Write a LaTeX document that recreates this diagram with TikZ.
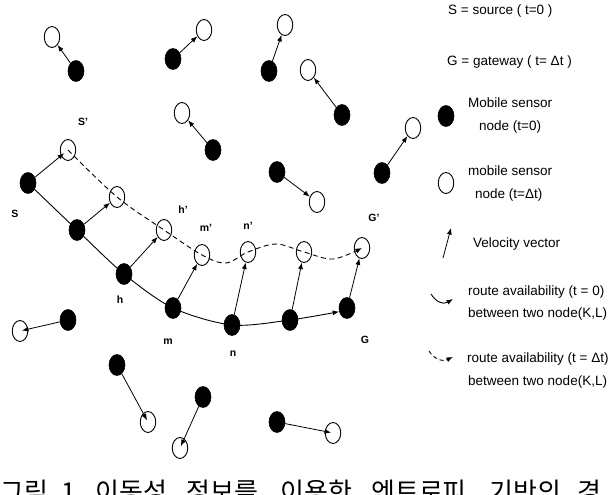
\documentclass[tikz,border=0pt]{standalone}
\usepackage{fontspec}
\setmainfont{Liberation Sans}
\newfontfamily\krfont{Noto Sans CJK KR}
\usetikzlibrary{arrows.meta,backgrounds,shapes.geometric}
\begin{document}
\begin{tikzpicture}[x=1pt,y=-1pt,
  blk/.style={ellipse,fill=black,draw=black,line width=0.6pt,minimum width=16pt,minimum height=21pt,inner sep=0pt},
  opn/.style={ellipse,draw=black,line width=0.9pt,minimum width=15.5pt,minimum height=21pt,inner sep=0pt},
  vel/.style={line width=0.8pt,-{Latex[length=6.5pt,width=5pt]}},
  route/.style={line width=0.9pt,-{Latex[length=6.5pt,width=5pt]}},
  lbl/.style={font=\fontsize{10.5}{12}\selectfont\bfseries,inner sep=0pt},
  leg/.style={font=\fontsize{13.5}{15}\selectfont,anchor=base west,inner sep=0pt},
  captxt/.style={font=\krfont\fontsize{26}{28}\selectfont,anchor=base west,inner sep=0pt},
]
\useasboundingbox (0,0) rectangle (608,495);

% scattered nodes
\node[opn] (o1) at (52,37) {};   \node[blk] (b1) at (76,71) {};
\node[opn] (o2) at (204,30) {};  \node[blk] (b2) at (173,59) {};
\node[opn] (o3) at (285,25) {};  \node[blk] (b3) at (269,71) {};
\node[opn] (o4) at (308,70) {};  \node[blk] (b4) at (342,115) {};
\node[opn] (o5) at (182,113) {}; \node[blk] (b5) at (213,150) {};
\node[opn] (o6) at (317,202) {}; \node[blk] (b6) at (277,172) {};
\node[opn] (o7) at (413,128) {}; \node[blk] (b7) at (382,173) {};
\node[opn] (o8) at (20,331) {};  \node[blk] (b8) at (68,320) {};
\node[opn] (o9) at (148,422) {}; \node[blk] (b9) at (117,365) {};
\node[opn] (o10) at (180,448) {};\node[blk] (b10) at (203,397) {};
\node[opn] (o11) at (333,433) {};\node[blk] (b11) at (277,422) {};

% route nodes
\node[blk] (S) at (28,183) {};  \node[opn] (Sp) at (68,150) {};
\node[blk] (a) at (77,230) {};  \node[opn] (ap) at (117,197) {};
\node[blk] (h) at (124,274) {}; \node[opn] (hp) at (164,230) {};
\node[blk] (m) at (173,308) {}; \node[opn] (mp) at (202,255) {};
\node[blk] (n) at (232,325) {}; \node[opn] (np) at (248,252) {};
\node[blk] (q) at (290,320) {}; \node[opn] (qp) at (304,252) {};
\node[blk] (G) at (347,308) {}; \node[opn] (Gp) at (362,248) {};

% waypoints of the dashed route
\coordinate (w1) at (226,263);
\coordinate (w2) at (276,244);
\coordinate (w3) at (333,259);

\begin{pgfonlayer}{background}
\draw[route] plot[smooth,tension=0.5] coordinates {(S.center) (a.center) (h.center) (m.center) (n.center) (q.center) (G.205)};
\draw[route,dashed,dash pattern=on 5pt off 3.5pt] plot[smooth,tension=0.55] coordinates {(Sp.center) (ap.center) (hp.center) (mp.center) (w1) (np.center) (w2) (qp.center) (w3) (Gp.center)};
\end{pgfonlayer}

% velocity vectors
\foreach \i in {1,...,7} {\draw[vel] (b\i) -- (o\i);}
\foreach \i in {8,...,11} {\draw[vel,shorten >=2pt] (b\i) -- (o\i.center);}
\draw[vel,shorten >=5pt] (S) -- (Sp.center);
\draw[vel] (a) -- (ap);
\draw[vel] (h) -- (hp);
\draw[vel] (m) -- (mp);
\draw[vel] (n) -- (np);
\draw[vel] (q) -- (qp);
\draw[vel] (G) -- (Gp);

% labels
\node[lbl] (lS) at (15,214) {S};
\node[lbl] (lSp) at (83,122) {S'};
\node[lbl] (lhp) at (183,210) {h'};
\node[lbl] (lmp) at (206,228) {m'};
\node[lbl] (lnp) at (248,226) {n'};
\node[lbl] (lGp) at (374,218) {G'};
\node[lbl] (lh) at (120,300) {h};
\node[lbl] (lm) at (168,342) {m};
\node[lbl] (ln) at (233,354) {n};
\node[lbl] (lG) at (365,340) {G};

% legend
\node[leg] (t1) at (448,15) {S = source ( t=0 )};
\node[leg] (t2) at (447,66) {G = gateway ( t= Δt )};
\node[blk] (k1) at (446,116) {};
\node[leg] (t3) at (468,107) {Mobile sensor};
\node[leg] (t4) at (479,130) {node (t=0)};
\node[opn] (k2) at (446,183) {};
\node[leg] (t5) at (468,175) {mobile sensor};
\node[leg] (t6) at (475,198) {node (t=Δt)};
\coordinate (v1) at (443,258);
\coordinate (v2) at (451,228);
\draw[vel] (v1) -- (v2);
\node[leg] (t7) at (473,247) {Velocity vector};
\coordinate (r1) at (431,294);
\coordinate (r2) at (453,299);
\draw[route] (r1) .. controls (436,302) and (443,305) .. (r2);
\node[leg] (t8) at (468,295) {route availability (t = 0)};
\node[leg] (t9) at (468,317) {between two node(K,L)};
\coordinate (d1) at (429,351);
\coordinate (d2) at (453,357);
\draw[route,dashed,dash pattern=on 4pt off 3pt] (d1) .. controls (434,359) and (442,362) .. (d2);
\node[leg] (t10) at (467,362) {route availability (t = Δt)};
\node[leg] (t11) at (468,385) {between two node(K,L)};

% caption
\node[captxt] (c1) at (0,501) {그림};
\node[captxt] (c2) at (61,501) {1.};
\node[captxt] (c3) at (95,501) {이동성};
\node[captxt] (c4) at (186,501) {정보를};
\node[captxt] (c5) at (280,501) {이용한};
\node[captxt] (c6) at (371,501) {엔트로피};
\node[captxt] (c7) at (489,501) {기반의};
\node[captxt] (c8) at (577,501) {경};
\end{tikzpicture}
\end{document}
